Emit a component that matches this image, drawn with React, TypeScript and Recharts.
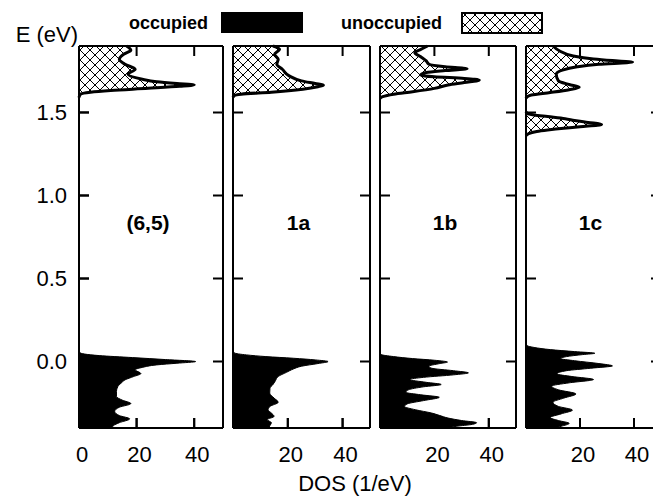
import React from "react";
import {
	Area,
	ComposedChart,
	Label,
	Legend,
	ReferenceLine,
	XAxis,
	YAxis
} from "recharts";

const FONT = '"Liberation Sans", Arial, Helvetica, sans-serif';

const energyTicks = [0, 0.5, 1, 1.5];
const dosTicks = [0, 20, 40];
const seriesNames = ["occupied", "unoccupied"];

// [E (eV), DOS (1/eV)] pairs, sorted by energy
const occ65 = [
	[-0.4, 11.5], [-0.385, 12], [-0.368, 14], [-0.345, 17.6], [-0.325, 14],
	[-0.3, 12.4], [-0.275, 14], [-0.253, 18], [-0.232, 15], [-0.21, 13],
	[-0.18, 13], [-0.15, 13.5], [-0.127, 14.8], [-0.11, 16], [-0.09, 19],
	[-0.072, 21.5], [-0.05, 19.5], [-0.035, 22], [-0.02, 27], [-0.01, 34],
	[0, 40.5], [0.012, 30], [0.024, 18.6], [0.036, 7], [0.045, 2],
	[0.054, 0.3], [0.07, 0]
];
const unocc65 = [
	[1.59, 0], [1.61, 0.5], [1.622, 4], [1.632, 11], [1.645, 24],
	[1.657, 35], [1.666, 40], [1.674, 34], [1.685, 27], [1.7, 22],
	[1.73, 17], [1.76, 19.5], [1.79, 16], [1.82, 14], [1.85, 15.5],
	[1.875, 18], [1.9, 16.5]
];

const occ1a = [
	[-0.4, 13], [-0.385, 13.5], [-0.368, 14], [-0.35, 12.5], [-0.33, 15],
	[-0.31, 14], [-0.29, 12.8], [-0.27, 13.5], [-0.245, 16.5], [-0.22, 15],
	[-0.19, 13.4], [-0.16, 13.5], [-0.138, 14.6], [-0.115, 15.5], [-0.09, 16.5],
	[-0.065, 19.5], [-0.045, 22], [-0.028, 25], [-0.012, 31], [0, 34.7],
	[0.01, 30], [0.02, 22], [0.03, 12], [0.04, 5], [0.052, 0.5], [0.065, 0]
];
const unocc1a = [
	[1.59, 0], [1.602, 0.5], [1.61, 3], [1.622, 14], [1.64, 25.5],
	[1.655, 31], [1.664, 33], [1.674, 30], [1.69, 25], [1.72, 20.5],
	[1.76, 18], [1.79, 16], [1.82, 16.5], [1.85, 15.2], [1.88, 17], [1.9, 14.6]
];

const occ1b = [
	[-0.4, 25], [-0.39, 28], [-0.378, 34], [-0.368, 35.5], [-0.355, 30],
	[-0.34, 25], [-0.325, 22], [-0.31, 19], [-0.29, 13], [-0.27, 9],
	[-0.255, 10], [-0.235, 16], [-0.215, 21.8], [-0.2, 15], [-0.185, 9.5],
	[-0.17, 10.5], [-0.152, 16], [-0.138, 22.5], [-0.125, 17], [-0.108, 11],
	[-0.095, 16], [-0.08, 27], [-0.068, 32.5], [-0.055, 27], [-0.04, 19],
	[-0.028, 18], [-0.012, 22], [-0.003, 24.8], [0.008, 20], [0.018, 12],
	[0.03, 5], [0.042, 0.5], [0.055, 0]
];
const unocc1b = [
	[1.585, 0], [1.595, 1], [1.61, 5], [1.625, 12], [1.645, 20],
	[1.665, 25], [1.68, 31], [1.695, 36.5], [1.705, 31], [1.715, 20],
	[1.725, 15], [1.74, 17], [1.752, 24], [1.763, 32], [1.775, 24],
	[1.79, 18], [1.81, 17], [1.835, 15], [1.86, 12.8], [1.88, 15], [1.9, 17.5]
];

const occ1c = [
	[-0.4, 11], [-0.39, 13], [-0.372, 16], [-0.355, 12], [-0.337, 9],
	[-0.315, 13], [-0.292, 17.2], [-0.27, 12], [-0.245, 10], [-0.22, 14],
	[-0.195, 18.5], [-0.17, 12], [-0.148, 9.5], [-0.128, 16], [-0.108, 25],
	[-0.09, 17], [-0.074, 11.5], [-0.055, 15], [-0.04, 24], [-0.026, 32],
	[-0.012, 27], [0.005, 18], [0.018, 12.8], [0.03, 15], [0.042, 21],
	[0.05, 25.5], [0.06, 18], [0.072, 9], [0.085, 3], [0.095, 0.5], [0.11, 0]
];
// 1c has two separate unoccupied bands
const unocc1cLow = [
	[1.36, 0], [1.373, 1], [1.385, 4], [1.394, 8], [1.405, 14],
	[1.414, 20], [1.428, 28], [1.44, 23], [1.452, 18], [1.462, 14.5],
	[1.475, 8], [1.485, 3], [1.494, 0.5], [1.505, 0]
];
const unocc1cHigh = [
	[1.585, 0], [1.595, 0.5], [1.605, 2], [1.62, 9], [1.637, 16], [1.652, 19.7],
	[1.668, 16], [1.69, 12], [1.73, 11.2], [1.755, 13.5], [1.775, 19],
	[1.79, 27], [1.803, 39.5], [1.812, 32], [1.822, 25], [1.84, 17.5],
	[1.87, 12.5], [1.9, 10]
];

const panels = [
	{ name: "(6,5)", occ: occ65, unocc: [unocc65] },
	{ name: "1a", occ: occ1a, unocc: [unocc1a] },
	{ name: "1b", occ: occ1b, unocc: [unocc1b] },
	{ name: "1c", occ: occ1c, unocc: [unocc1cLow, unocc1cHigh] }
];

// page layout: each panel is its own chart, side by side
const H = 497;
const PLOT_TOP = 46;
const PLOT_BOTTOM = 428;
const chartSpans = [
	[0, 228],
	[228, 375],
	[375, 521],
	[521, 670]
];
const panelEdges = [
	[79, 223],
	[233, 370],
	[380, 516],
	[526, 661]
];
// axes need a non-zero size to be drawn at all
const AXIS = 1;
const TICK_LEN = 10;
const HATCH = "xhatch";

const axisLine = { stroke: "#000", strokeWidth: 2 };
const tickLine = { stroke: "#000", strokeWidth: 2 };

type Pair = number[];
type Row = { e: number; occ: number | null; unocc: number | null };

// merge both series into one table; an empty row between bands breaks the curve
const buildRows = (occ: Pair[], bands: Pair[][]) => {
	const rows: Row[] = occ.map(([e, d]) => ({ e, occ: d, unocc: null }));
	bands.forEach((band, i) => {
		if (i > 0) {
			const prev = bands[i - 1];
			rows.push({ e: (prev[prev.length - 1][0] + band[0][0]) / 2, occ: null, unocc: null });
		}
		band.forEach(([e, d]) => rows.push({ e, occ: null, unocc: d }));
	});
	return rows.sort((a, b) => a.e - b.e);
};

// inward tick marks at both ends of a reference line (top/bottom or left/right frame)
const EndMarks = (props: any) => {
	const { x1, y1, x2, y2 } = props;
	if (![x1, y1, x2, y2].every((v) => Number.isFinite(v))) return null;
	const vertical = Math.abs(x1 - x2) < 0.5;
	const d = vertical
		? `M${x1},${Math.min(y1, y2)}v${TICK_LEN}M${x1},${Math.max(y1, y2)}v${-TICK_LEN}`
		: `M${Math.min(x1, x2)},${y1}h${TICK_LEN}M${Math.max(x1, x2)},${y1}h${-TICK_LEN}`;
	return <path d={d} stroke="#000" strokeWidth={2} fill="none" />;
};

const LegendRow = () => (
	<svg width={653} height={40} style={{ display: "block" }}>
		<text x={208} y={29} textAnchor="end" fontSize={18} fontWeight="bold">
			{seriesNames[0]}
		</text>
		<rect x={221} y={12} width={82} height={21} fill="#000" />
		<text x={442} y={29} textAnchor="end" fontSize={18} fontWeight="bold">
			{seriesNames[1]}
		</text>
		<rect
			x={462}
			y={13}
			width={80}
			height={20}
			fill={`url(#${HATCH})`}
			stroke="#000"
			strokeWidth={2}
		/>
	</svg>
);

const Panel = ({ index }: { index: number }) => {
	const { name, occ, unocc } = panels[index];
	const [chartLeft, chartRight] = chartSpans[index];
	const [left, right] = panelEdges[index];
	const first = index === 0;
	const rows = buildRows(occ, unocc);

	return (
		<div style={{ position: "absolute", left: chartLeft, top: 0 }}>
			<ComposedChart
				layout="vertical"
				width={chartRight - chartLeft}
				height={H}
				data={rows}
				margin={{
					top: PLOT_TOP - AXIS,
					bottom: H - PLOT_BOTTOM - AXIS,
					left: left - chartLeft - AXIS,
					right: chartRight - right - AXIS
				}}
			>
				<XAxis
					xAxisId="bottom"
					type="number"
					orientation="bottom"
					domain={[0, 50]}
					ticks={dosTicks}
					height={AXIS}
					axisLine={axisLine}
					tickLine={tickLine}
					tickSize={-TICK_LEN}
					tickMargin={28}
					tick={{ fill: "#000", fontSize: 22, dx: 3 }}
				/>
				{/* top and right axes only close the frame */}
				<XAxis
					xAxisId="top"
					type="number"
					orientation="top"
					domain={[0, 50]}
					height={AXIS}
					axisLine={axisLine}
					tickLine={false}
					tick={false}
				/>
				<YAxis
					yAxisId="left"
					type="number"
					dataKey="e"
					orientation="left"
					domain={[-0.4, 1.9]}
					reversed
					ticks={energyTicks}
					width={AXIS}
					axisLine={axisLine}
					tickLine={tickLine}
					tickSize={-TICK_LEN}
					tickMargin={22}
					tickFormatter={(v: number) => v.toFixed(1)}
					tick={first ? { fill: "#000", fontSize: 22 } : false}
				>
					{first && (
						<Label
							content={() => (
								<text x={78} y={42} textAnchor="end" fontSize={22} fill="#000">
									E (eV)
								</text>
							)}
						/>
					)}
				</YAxis>
				<YAxis
					yAxisId="right"
					type="number"
					dataKey="e"
					orientation="right"
					domain={[-0.4, 1.9]}
					width={AXIS}
					axisLine={axisLine}
					tickLine={false}
					tick={false}
				/>

				<Area
					xAxisId="bottom"
					yAxisId="left"
					name={seriesNames[0]}
					dataKey="occ"
					type="monotone"
					fill="#000"
					fillOpacity={1}
					stroke="#000"
					strokeWidth={1}
					dot={false}
					activeDot={false}
					isAnimationActive={false}
				/>
				<Area
					xAxisId="bottom"
					yAxisId="left"
					name={seriesNames[1]}
					dataKey="unocc"
					type="monotone"
					fill={`url(#${HATCH})`}
					fillOpacity={1}
					stroke="#000"
					strokeWidth={3}
					dot={false}
					activeDot={false}
					isAnimationActive={false}
				/>

				{dosTicks
					.filter((v) => v > 0)
					.map((v) => (
						<ReferenceLine
							key={`x${v}`}
							xAxisId="bottom"
							yAxisId="left"
							x={v}
							ifOverflow="visible"
							shape={EndMarks}
						/>
					))}
				{energyTicks.map((v) => (
					<ReferenceLine
						key={`y${v}`}
						xAxisId="bottom"
						yAxisId="left"
						y={v}
						ifOverflow="visible"
						shape={EndMarks}
					/>
				))}

				{/* panel name, centred in the empty band between the two groups of states */}
				<ReferenceLine
					xAxisId="bottom"
					yAxisId="left"
					y={0.84}
					stroke="none"
					label={{
						value: name,
						position: "center",
						dx: -3,
						fill: "#000",
						fontSize: 21,
						fontWeight: "bold"
					}}
				/>

				{first && (
					<Legend
						layout="horizontal"
						verticalAlign="middle"
						align="center"
						wrapperStyle={{ position: "absolute", left: 0, top: 0, width: 653, height: 40 }}
						content={() => <LegendRow />}
					/>
				)}
			</ComposedChart>
		</div>
	);
};

const App = () => (
	<div
		style={{
			position: "fixed",
			left: 0,
			top: 0,
			width: 653,
			height: 497,
			overflow: "hidden",
			background: "#fff",
			fontFamily: FONT
		}}
	>
		{/* shared crosshatch fill for the unoccupied states */}
		<svg width={0} height={0} style={{ position: "absolute" }}>
			<defs>
				<pattern id={HATCH} patternUnits="userSpaceOnUse" width={10} height={10}>
					<path d="M0,0L10,10M10,0L0,10" stroke="#000" strokeWidth={1} />
				</pattern>
			</defs>
		</svg>
		{panels.map((_, i) => (
			<Panel key={i} index={i} />
		))}
		<div
			style={{
				position: "absolute",
				left: 255,
				top: 472,
				width: 200,
				textAlign: "center",
				fontSize: 22,
				lineHeight: "24px",
				color: "#000"
			}}
		>
			DOS (1/eV)
		</div>
	</div>
);

export default App;
